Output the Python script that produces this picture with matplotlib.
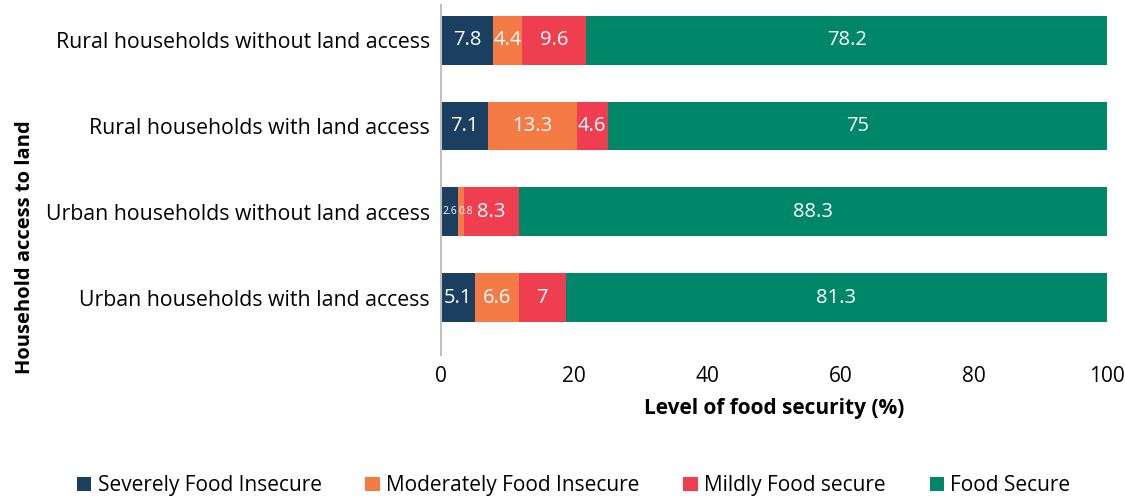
import numpy as np
import matplotlib
matplotlib.use("Agg")
import matplotlib.pyplot as plt

plt.rcParams["font.family"] = ["Open Sans", "DejaVu Sans"]

categories = ["Rural households without land access",
              "Rural households with land access",
              "Urban households without land access",
              "Urban households with land access"]
series = ["Severely Food Insecure", "Moderately Food Insecure",
          "Mildly Food secure", "Food Secure"]
severe = [7.8, 7.1, 2.6, 5.1]
moderate = [4.4, 13.3, 0.8, 6.6]
mild = [9.6, 4.6, 8.3, 7]
secure = [78.2, 75, 88.3, 81.3]
colours = ["#1b3f60", "#f47b46", "#ee3e50", "#00876a"]

values = [severe, moderate, mild, secure]

fig = plt.figure(figsize=(11.25, 5), dpi=100)
ax = fig.add_axes([0.392, 0.29, 0.592, 0.70])

ys = np.arange(len(categories))
left = np.zeros(len(categories))
for i, (name, vals, col) in enumerate(zip(series, values, colours)):
    vals = np.array(vals, dtype=float)
    ax.barh(ys, vals, left=left, height=0.57, color=col, label=name)
    for y, l, v in zip(ys, left, vals):
        if v >= 3:
            ax.text(l + v / 2, y, f"{v:g}", ha="center", va="center",
                    color="white", fontsize=14.5)
        elif i == 0:
            # tiny segment: push label to the left edge of the bar
            ax.text(l + 0.15, y, f"{v:g}", ha="left", va="center",
                    color="white", fontsize=7.5)
        else:
            ax.text(l + 0.1, y, f"{v:g}", ha="left", va="center",
                    color="white", fontsize=7.5)
    left += vals

ax.set_ylim(3.67, -0.41)
ax.set_xlim(0, 100)
ax.set_yticks(ys)
ax.set_yticklabels(categories, fontsize=15.3)
ax.set_xticks([0, 20, 40, 60, 80, 100])
ax.tick_params(axis="x", labelsize=15, length=0, pad=8)
ax.tick_params(axis="y", length=0, pad=8)
for s in ["top", "right", "bottom"]:
    ax.spines[s].set_visible(False)
ax.spines["left"].set_color("#bfbfbf")
ax.spines["left"].set_linewidth(1.5)

ax.set_xlabel("Level of food security (%)", fontsize=15, fontweight="bold", labelpad=8)
fig.text(0.022, 0.505, "Household access to land", rotation=90, fontsize=14.5,
         fontweight="bold", ha="center", va="center")

fig.legend(loc="lower center", bbox_to_anchor=(0.51, -0.03), ncol=4, frameon=False,
           fontsize=15, handlelength=0.7, handleheight=0.7, handletextpad=0.3,
           columnspacing=2.1)

fig.savefig("out.png", dpi=100)
